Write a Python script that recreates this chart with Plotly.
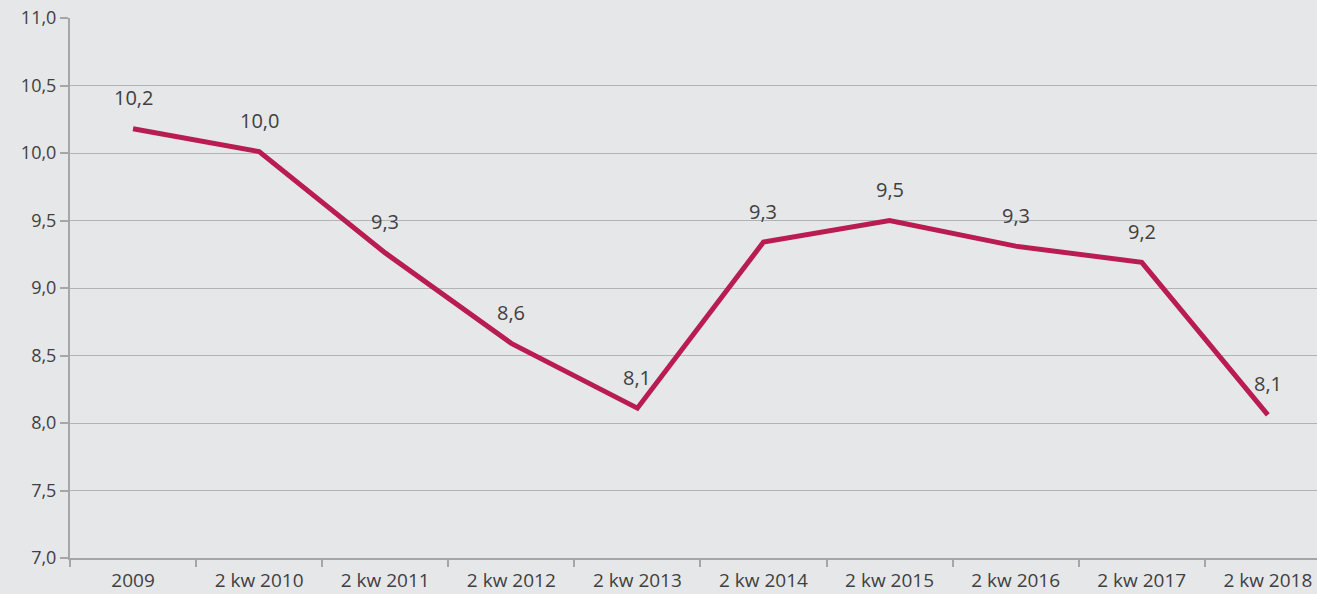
import plotly.graph_objects as go

categories = ["2009", "2 kw 2010", "2 kw 2011", "2 kw 2012", "2 kw 2013",
              "2 kw 2014", "2 kw 2015", "2 kw 2016", "2 kw 2017", "2 kw 2018"]
values = [10.18, 10.01, 9.26, 8.59, 8.11, 9.34, 9.50, 9.31, 9.19, 8.06]
labels = ["10,2", "10,0", "9,3", "8,6", "8,1", "9,3", "9,5", "9,3", "9,2", "8,1"]
y_ticks = [7.0, 7.5, 8.0, 8.5, 9.0, 9.5, 10.0, 10.5, 11.0]
y_tick_text = ["7,0", "7,5", "8,0", "8,5", "9,0", "9,5", "10,0", "10,5", "11,0"]

LINE = "#b81c50"
TEXT = "#404040"
FONT = "Open Sans"

fig = go.Figure()
fig.add_trace(go.Scatter(
    x=categories, y=values, mode="lines",
    line=dict(color=LINE, width=5, shape="linear"),
    hoverinfo="skip", showlegend=False,
))

for i, (v, t) in enumerate(zip(values, labels)):
    fig.add_annotation(x=i, y=v, xref="x", yref="y", text=t, showarrow=False, yshift=31,
                       font=dict(family=FONT, size=20, color=TEXT))

fig.update_layout(
    width=1317, height=594,
    margin=dict(l=70, r=0, t=18, b=36),
    paper_bgcolor="#e6e7e8", plot_bgcolor="#e6e7e8",
    font=dict(family=FONT, size=17, color=TEXT),
    showlegend=False,
)
fig.update_xaxes(
    type="category", range=[-0.5, 9.39],
    showgrid=False, showline=True, linecolor="#a6a6a6", linewidth=2,
    ticks="outside", tickson="boundaries", ticklen=7, tickcolor="#a6a6a6", tickwidth=2,
    tickfont=dict(family=FONT, size=19, color=TEXT), ticklabelstandoff=4,
    zeroline=False,
)
fig.update_yaxes(
    range=[7, 11], tickvals=y_ticks, ticktext=y_tick_text,
    showgrid=True, gridcolor="#b3b3b3", gridwidth=1,
    showline=True, linecolor="#a6a6a6", linewidth=2,
    ticks="outside", ticklen=8, tickcolor="#a6a6a6", tickwidth=2,
    tickfont=dict(family=FONT, size=18, color=TEXT),
    zeroline=False,
)

fig.write_html("out.html", config={"displayModeBar": False})
with open("out.html", "r", encoding="utf-8") as f:
    html = f.read()
html = html.replace("<body>", '<body style="margin:0;padding:0;background:#e6e7e8">', 1)
with open("out.html", "w", encoding="utf-8") as f:
    f.write(html)
